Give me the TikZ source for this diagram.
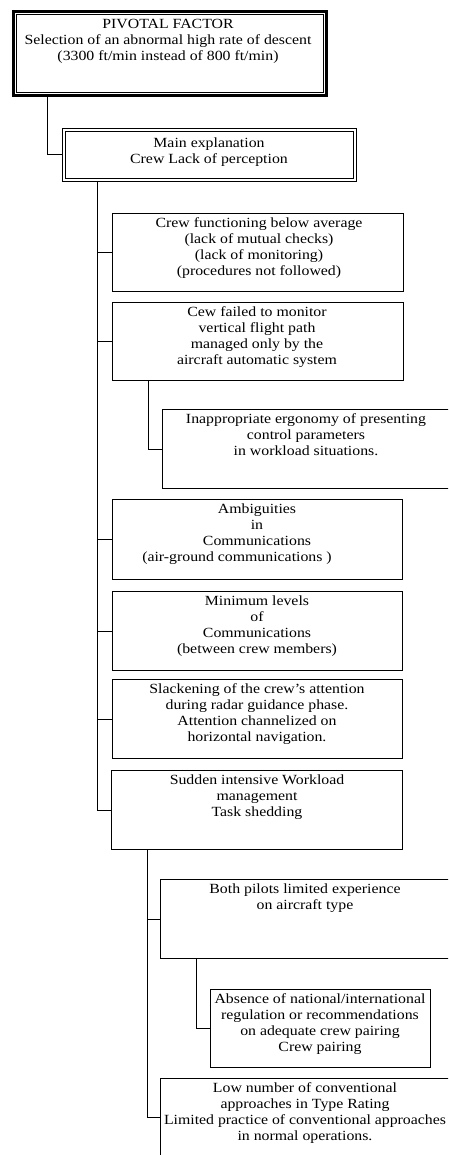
\documentclass[tikz,border=0pt]{standalone}
\usepackage{fontspec}
\setmainfont[FakeStretch=1.13]{Liberation Serif}
\begin{document}
\begin{tikzpicture}[x=1pt,y=-1pt,
  box/.style={draw, line width=1.1pt, inner sep=0pt, anchor=north west},
  txt/.style={align=center, inner sep=0pt, anchor=north, font=\fontsize{14}{16}\selectfont},
  link/.style={line width=1pt}]
\useasboundingbox (0,0) rectangle (448,1155);
\clip (0,0) rectangle (448,1155);

% pivotal factor
\node[box, line width=3pt, minimum width=313pt, minimum height=84pt] (b1) at (11.5,10) {};
\draw[line width=0.8pt] ([shift={(4.5pt,-4.5pt)}]b1.north west) rectangle ([shift={(-4.5pt,4.5pt)}]b1.south east);
\node[txt] (t1) at (168,17) {\strut PIVOTAL FACTOR\\Selection of an abnormal high rate of descent\\(3300 ft/min instead of 800 ft/min)};

% main explanation
\node[box, line width=1pt, minimum width=294pt, minimum height=53pt] (b2) at (62,128) {};
\draw[line width=1.6pt] ([shift={(3.5pt,-3.5pt)}]b2.north west) rectangle ([shift={(-3.5pt,3.5pt)}]b2.south east);
\node[txt] (t2) at (209,136) {\strut Main explanation\\Crew Lack of perception};

% level 2 boxes
\node[box, minimum width=291pt, minimum height=78pt] (b3) at (112,213) {};
\node[txt] (t3) at (259,216.5) {\strut Crew functioning below average\\(lack of mutual checks)\\(lack of monitoring)\\(procedures not followed)};

\node[box, minimum width=291pt, minimum height=78pt] (b4) at (112,302) {};
\node[txt] (t4) at (257,305.5) {\strut Cew failed to monitor\\vertical flight path\\managed only by the\\aircraft automatic system};

\node[box, minimum width=290pt, minimum height=79pt] (b5) at (162,409) {};
\node[txt] (t5) at (306,412.5) {\strut Inappropriate ergonomy of presenting\\control parameters\\in workload situations.};

\node[box, minimum width=290pt, minimum height=80pt] (b6) at (112,499) {};
\node[txt] (t6) at (257,502.5) {\strut Ambiguities\\in\\Communications\\(air-ground communications )\hspace*{40pt}};

\node[box, minimum width=290pt, minimum height=79pt] (b7) at (112,591) {};
\node[txt] (t7) at (257,594.5) {\strut Minimum levels\\of\\Communications\\(between crew members)};

\node[box, minimum width=290pt, minimum height=79pt] (b8) at (112,679) {};
\node[txt] (t8) at (257,682.5) {\strut Slackening of the crew’s attention\\during radar guidance phase.\\Attention channelized on\\horizontal navigation.};

\node[box, minimum width=291pt, minimum height=79pt] (b9) at (111,770) {};
\node[txt] (t9) at (257,773.5) {\strut Sudden intensive Workload\\management\\Task shedding};

% level 3 boxes
\node[box, minimum width=290pt, minimum height=79pt] (b10) at (160,879) {};
\node[txt] (t10) at (305,882.5) {\strut Both pilots limited experience\\on aircraft type};

\node[box, minimum width=220pt, minimum height=78pt] (b11) at (210,989) {};
\node[txt] (t11) at (320,992.5) {\strut Absence of national/international\\regulation or recommendations\\on adequate crew pairing\\Crew pairing};

\node[box, minimum width=290pt, minimum height=78pt] (b12) at (160,1078) {};
\node[txt] (t12) at (305,1081.5) {\strut Low number of conventional\\approaches in Type Rating\\Limited practice of conventional approaches\\in normal operations.};

% connectors
\coordinate (x0) at (47,0);
\draw[link] (b1.south -| x0) |- (b2.west);

\coordinate (x1) at (97,0);
\draw[link] (b2.south -| x1) |- (b9.west);
\foreach \b in {b3,b4,b6,b7,b8}
  \draw[link] (\b.west -| x1) -- (\b.west);

\coordinate (x2) at (148,0);
\draw[link] (b4.south -| x2) |- (b5.west);

\coordinate (x3) at (147,0);
\draw[link] (b9.south -| x3) |- (b12.west);
\draw[link] (b10.west -| x3) -- (b10.west);

\coordinate (x4) at (196,0);
\draw[link] (b10.south -| x4) |- (b11.west);
\end{tikzpicture}
\end{document}
